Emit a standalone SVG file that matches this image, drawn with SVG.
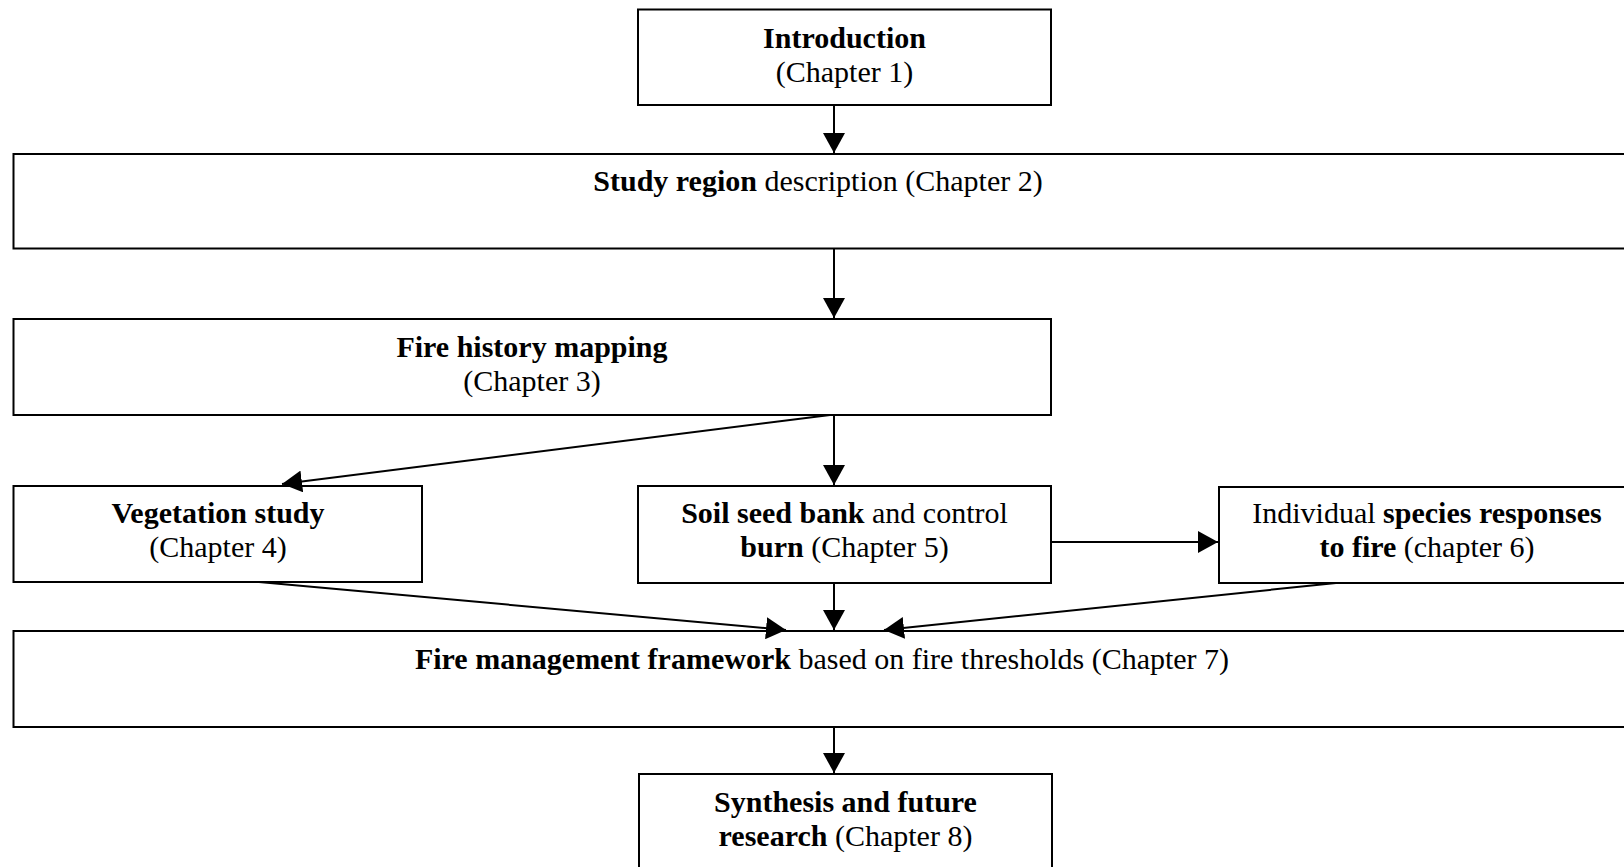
<svg xmlns="http://www.w3.org/2000/svg" width="1624" height="867" viewBox="0 0 1624 867">
<defs>
<marker id="ah" markerUnits="userSpaceOnUse" markerWidth="20" markerHeight="22" refX="20" refY="11" orient="auto">
<path d="M0,0 L20,11 L0,22 z" fill="#000"/>
</marker>
<style>
.box{fill:#fff;stroke:#000;stroke-width:2}
.t{font-family:"Liberation Serif","Times New Roman",serif;font-size:30px;fill:#000;text-anchor:middle}
.b{font-weight:bold}
.c{stroke:#000;stroke-width:2;fill:none;marker-end:url(#ah)}
</style>
</defs>
<rect width="1624" height="867" fill="#fff"/>
<g id="n1">
<rect class="box" x="638" y="9.5" width="413" height="95.5"/>
<text class="t" x="844.5" y="48"><tspan class="b">Introduction</tspan></text>
<text class="t" x="844.5" y="82">(Chapter 1)</text>
</g>
<g id="n2">
<rect class="box" x="13.5" y="154" width="1640" height="94.5"/>
<text class="t" x="818" y="191"><tspan class="b">Study region</tspan> description (Chapter 2)</text>
</g>
<g id="n3">
<rect class="box" x="13.5" y="319" width="1037.5" height="96"/>
<text class="t" x="532" y="357"><tspan class="b">Fire history mapping</tspan></text>
<text class="t" x="532" y="391">(Chapter 3)</text>
</g>
<g id="n4">
<rect class="box" x="13.5" y="486" width="408.5" height="96"/>
<text class="t" x="218" y="523"><tspan class="b">Vegetation study</tspan></text>
<text class="t" x="218" y="557">(Chapter 4)</text>
</g>
<g id="n5">
<rect class="box" x="638" y="486" width="413" height="97"/>
<text class="t" x="844.5" y="523"><tspan class="b">Soil seed bank</tspan> and control</text>
<text class="t" x="844.5" y="557"><tspan class="b">burn</tspan> (Chapter 5)</text>
</g>
<g id="n6">
<rect class="box" x="1219" y="487" width="416" height="96"/>
<text class="t" x="1427" y="523">Individual <tspan class="b">species responses</tspan></text>
<text class="t" x="1427" y="557"><tspan class="b">to fire</tspan> (chapter 6)</text>
</g>
<g id="n7">
<rect class="box" x="13.5" y="631" width="1640" height="96"/>
<text class="t" x="822" y="669"><tspan class="b">Fire management framework</tspan> based on fire thresholds (Chapter 7)</text>
</g>
<g id="n8">
<rect class="box" x="639" y="774" width="413" height="110"/>
<text class="t" x="845.5" y="812"><tspan class="b">Synthesis and future</tspan></text>
<text class="t" x="845.5" y="846"><tspan class="b">research</tspan> (Chapter 8)</text>
</g>
<g id="connectors">
<line class="c" x1="834" y1="105" x2="834" y2="153"/>
<line class="c" x1="834" y1="248.5" x2="834" y2="318"/>
<line class="c" x1="830" y1="415" x2="282" y2="484"/>
<line class="c" x1="834" y1="415" x2="834" y2="485"/>
<line class="c" x1="1051" y1="542" x2="1218" y2="542"/>
<line class="c" x1="259" y1="582" x2="786" y2="630"/>
<line class="c" x1="834" y1="583" x2="834" y2="630"/>
<line class="c" x1="1336" y1="583" x2="884" y2="630"/>
<line class="c" x1="834" y1="727" x2="834" y2="773"/>
</g>
</svg>
